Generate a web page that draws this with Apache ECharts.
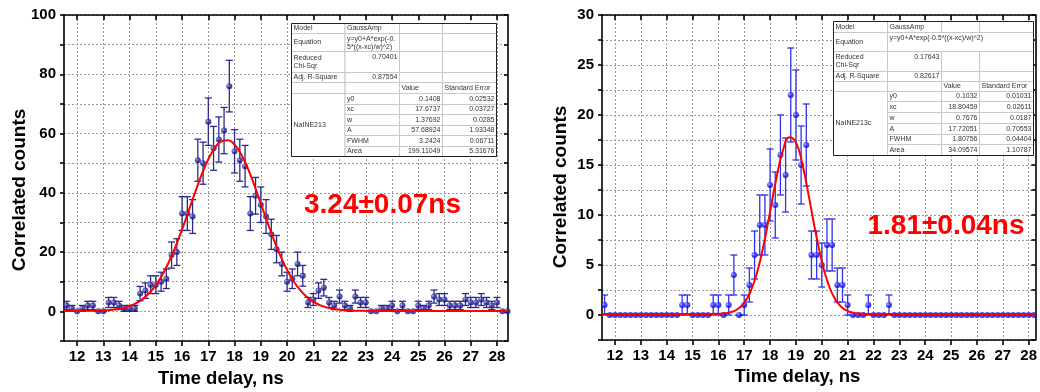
<!DOCTYPE html>
<html>
<head>
<meta charset="utf-8" />
<title>Correlated counts vs time delay</title>
<style>
    html, body { margin: 0; padding: 0; background: #fff; }
    #main { width: 1040px; height: 392px; }
</style>
</head>
<body>
<div id="main"></div>
<script src="https://cdn.jsdelivr.net/npm/echarts@6/dist/echarts.min.js"></script>
<script>
// time bins, ns (0.2 ns step)
const times = [
    11.6, 11.8, 12.0, 12.2, 12.4, 12.6, 12.8, 13.0, 13.2, 13.4,
    13.6, 13.8, 14.0, 14.2, 14.4, 14.6, 14.8, 15.0, 15.2, 15.4,
    15.6, 15.8, 16.0, 16.2, 16.4, 16.6, 16.8, 17.0, 17.2, 17.4,
    17.6, 17.8, 18.0, 18.2, 18.4, 18.6, 18.8, 19.0, 19.2, 19.4,
    19.6, 19.8, 20.0, 20.2, 20.4, 20.6, 20.8, 21.0, 21.2, 21.4,
    21.6, 21.8, 22.0, 22.2, 22.4, 22.6, 22.8, 23.0, 23.2, 23.4,
    23.6, 23.8, 24.0, 24.2, 24.4, 24.6, 24.8, 25.0, 25.2, 25.4,
    25.6, 25.8, 26.0, 26.2, 26.4, 26.6, 26.8, 27.0, 27.2, 27.4,
    27.6, 27.8, 28.0, 28.2, 28.4
];
// left panel: NaINE213
const countsA = [
    2, 1, 0, 1, 2, 2, 0, 0, 3, 3,
    2, 1, 1, 1, 6, 7, 9, 9, 10, 11,
    19, 20, 33, 33, 32, 51, 50, 64, 55, 58,
    61, 76, 54, 51, 49, 33, 39, 36, 32, 26,
    21, 16, 10, 11, 16, 12, 3, 4, 7, 8,
    3, 2, 5, 2, 1, 5, 3, 3, 0, 0,
    1, 1, 2, 0, 2, 0, 0, 2, 1, 2,
    5, 4, 4, 2, 2, 2, 4, 3, 3, 4,
    3, 2, 3, 0, 0
];
const errA = [
    1.4, 1, 0, 1, 1.4, 1.4, 0, 0, 1.7, 1.7,
    1.4, 1, 1, 1, 2.4, 2.6, 3, 3, 3.2, 3.3,
    4.4, 4.5, 5.7, 5.7, 5.7, 7.1, 7.1, 8, 7.4, 7.6,
    7.8, 8.7, 7.3, 7.1, 7, 5.7, 6.2, 6, 5.7, 5.1,
    4.6, 4, 3.2, 3.3, 4, 3.5, 1.7, 2, 2.6, 2.8,
    1.7, 1.4, 2.2, 1.4, 1, 2.2, 1.7, 1.7, 0, 0,
    1, 1, 1.4, 0, 1.4, 0, 0, 1.4, 1, 1.4,
    2.2, 2, 2, 1.4, 1.4, 1.4, 2, 1.7, 1.7, 2,
    1.7, 1.4, 1.7, 0, 0
];
// right panel: NaINE213c
const countsB = [
    1, 0, 0, 0, 0, 0, 0, 0, 0, 0,
    0, 0, 0, 0, 0, 1, 1, 0, 0, 0,
    0, 1, 1, 0, 1, 4, 0, 1, 3, 6,
    9, 9, 13, 11, 16, 14, 22, 20, 15, 17,
    6, 6, 5, 7, 7, 3, 3, 1, 0, 0,
    0, 1, 0, 0, 0, 1, 0, 0, 0, 0,
    0, 0, 0, 0, 0, 0, 0, 0, 0, 0,
    0, 0, 0, 0, 0, 0, 0, 0, 0, 0,
    0, 0, 0, 0, 0
];
const errB = [
    1, 0, 0, 0, 0, 0, 0, 0, 0, 0,
    0, 0, 0, 0, 0, 1, 1, 0, 0, 0,
    0, 1, 1, 0, 1, 2, 0, 1, 1.7, 2.4,
    3, 3, 3.6, 3.3, 4, 3.7, 4.7, 4.5, 3.9, 4.1,
    2.4, 2.4, 2.2, 2.6, 2.6, 1.7, 1.7, 1, 0, 0,
    0, 1, 0, 0, 0, 1, 0, 0, 0, 0,
    0, 0, 0, 0, 0, 0, 0, 0, 0, 0,
    0, 0, 0, 0, 0, 0, 0, 0, 0, 0,
    0, 0, 0, 0, 0
];
// GaussAmp fit curves
const fitXA = [11.5, 12.5, 13, 13.25, 13.5, 13.75, 14, 14.25, 14.5, 14.75, 15, 15.25, 15.5, 15.75, 16, 16.25, 16.5, 16.75,
    17, 17.25, 17.5, 17.75, 18, 18.25, 18.5, 18.75, 19, 19.25, 19.5, 19.75, 20, 20.25, 20.5, 20.75, 21, 21.25,
    21.5, 21.75, 22, 22.25, 22.5, 23, 24, 28.42];
const fitYA = [0.14, 0.19, 0.32, 0.47, 0.72, 1.14, 1.78, 2.76, 4.19, 6.19, 8.89, 12.39, 16.73, 21.88, 27.69, 33.93, 40.24, 46.2,
    51.32, 55.16, 57.37, 57.74, 56.23, 53.0, 48.33, 42.64, 36.43, 30.1, 24.09, 18.65, 13.99, 10.17, 7.16, 4.9, 3.26, 2.12,
    1.35, 0.86, 0.55, 0.37, 0.26, 0.17, 0.14, 0.14];
const fitXB = [11.5, 15.5, 16, 16.25, 16.5, 16.75, 17, 17.25, 17.5, 17.75, 18, 18.25, 18.5, 18.75, 19, 19.25, 19.5, 19.75,
    20, 20.25, 20.5, 20.75, 21, 21.25, 21.5, 22, 28.26];
const fitYB = [0.10, 0.10, 0.13, 0.17, 0.30, 0.60, 1.22, 2.38, 4.28, 7.0, 10.33, 13.75, 16.48, 17.78, 17.26, 15.08, 11.86, 8.4,
    5.38, 3.11, 1.65, 0.82, 0.40, 0.21, 0.14, 0.10, 0.10];
// tick labels
const xTicks = [12, 13, 14, 15, 16, 17, 18, 19, 20, 21, 22, 23, 24, 25, 26, 27, 28];

// fit report tables
const paramNames = ['y0', 'xc', 'w', 'A', 'FWHM', 'Area'];
const paramValA = ['0.1408', '17.6737', '1.37692', '57.68924', '3.2424', '199.11049'];
const paramErrA = ['0.02532', '0.03727', '0.0285', '1.93348', '0.06711', '5.31676'];
const paramValB = ['0.1032', '18.80459', '0.7676', '17.72051', '1.80756', '34.09574'];
const paramErrB = ['0.01031', '0.02611', '0.0187', '0.70553', '0.04404', '1.10787'];

const FONT = '"Liberation Sans", Arial, sans-serif';

const chart = echarts.init(document.getElementById('main'));

function errBars(color) {
    return function (params, api) {
        const x = api.value(0), y = api.value(1), e = api.value(2);
        const hi = api.coord([x, y + e]);
        const lo = api.coord([x, y - e]);
        const hw = 3.5;
        const st = { stroke: color, lineWidth: 1.3 };
        return {
            type: 'group',
            children: [
                { type: 'line', shape: { x1: hi[0], y1: hi[1], x2: lo[0], y2: lo[1] }, style: st },
                { type: 'line', shape: { x1: hi[0] - hw, y1: hi[1], x2: hi[0] + hw, y2: hi[1] }, style: st },
                { type: 'line', shape: { x1: lo[0] - hw, y1: lo[1], x2: lo[0] + hw, y2: lo[1] }, style: st }
            ]
        };
    };
}

function ball(c0, c1, c2) {
    return {
        type: 'radial', x: 0.35, y: 0.35, r: 0.75,
        colorStops: [{ offset: 0, color: c0 }, { offset: 0.45, color: c1 }, { offset: 1, color: c2 }]
    };
}

const axisLineStyle = { color: '#000', width: 1.6 };
const gridLineStyle = { color: '#9a9a9a', type: [2, 2], width: 1 };

function bottomAxis(grid, max) {
    return {
        type: 'value', gridIndex: grid, position: 'bottom', min: 11.5, max: max,
        axisLine: { show: true, onZero: false, lineStyle: axisLineStyle },
        axisTick: { show: true, inside: false, length: 5, customValues: xTicks, lineStyle: axisLineStyle },
        axisLabel: { customValues: xTicks, color: '#000', fontSize: 15, fontWeight: 'bold', fontFamily: FONT, margin: 8 },
        splitLine: { show: true, lineStyle: gridLineStyle }
    };
}
function topAxis(grid, max) {
    return {
        type: 'value', gridIndex: grid, position: 'top', min: 11.5, max: max,
        axisLine: { show: true, onZero: false, lineStyle: axisLineStyle },
        axisTick: { show: true, inside: true, length: 5, customValues: xTicks, lineStyle: axisLineStyle },
        axisLabel: { show: false },
        splitLine: { show: false }
    };
}
function leftAxis(grid, min, max, step, labelStep) {
    return {
        type: 'value', gridIndex: grid, position: 'left', min: min, max: max, interval: step,
        axisLine: { show: true, onZero: false, lineStyle: axisLineStyle },
        axisTick: { show: true, inside: false, length: 4, lineStyle: axisLineStyle },
        axisLabel: {
            color: '#000', fontSize: 15, fontWeight: 'bold', fontFamily: FONT, margin: 8,
            formatter: function (v) { return (v >= 0 && v % labelStep === 0) ? String(v) : ''; }
        },
        splitLine: { show: true, lineStyle: gridLineStyle }
    };
}
function rightAxis(grid, min, max, step) {
    return {
        type: 'value', gridIndex: grid, position: 'right', min: min, max: max, interval: step,
        axisLine: { show: true, onZero: false, lineStyle: axisLineStyle },
        axisTick: { show: true, inside: true, length: 4, lineStyle: axisLineStyle },
        axisLabel: { show: false },
        splitLine: { show: false }
    };
}

// fit report table built from graphic rects and texts
function fitTable(cols, rows, t) {
    const cells = [
        [0, 0, 1, 1, 'Model', 'left', 'middle'], [1, 0, 1, 1, 'GaussAmp', 'left', 'middle'], [2, 0, 1, 1, ''], [3, 0, 1, 1, ''],
        [0, 1, 1, 1, 'Equation', 'left', 'middle']
    ];
    if (t.wideEq) {
        cells.push([1, 1, 3, 1, t.eq, 'left', 'top']);
    } else {
        cells.push([1, 1, 1, 1, t.eq, 'left', 'top'], [2, 1, 1, 1, ''], [3, 1, 1, 1, '']);
    }
    cells.push(
        [0, 2, 1, 1, 'Reduced\nChi-Sqr', 'left', 'middle'], [1, 2, 1, 1, t.chi, 'right', 'top'], [2, 2, 1, 1, ''], [3, 2, 1, 1, ''],
        [0, 3, 1, 1, 'Adj. R-Square', 'left', 'middle'], [1, 3, 1, 1, t.r2, 'right', 'middle'], [2, 3, 1, 1, ''], [3, 3, 1, 1, ''],
        [0, 4, 1, 1, ''], [1, 4, 1, 1, ''], [2, 4, 1, 1, 'Value', 'left', 'middle'], [3, 4, 1, 1, 'Standard Error', 'left', 'middle'],
        [0, 5, 1, 6, t.name, 'left', 'middle']
    );
    for (let i = 0; i < paramNames.length; i++) {
        cells.push([1, 5 + i, 1, 1, paramNames[i], 'left', 'middle'],
            [2, 5 + i, 1, 1, t.vals[i], 'right', 'middle'],
            [3, 5 + i, 1, 1, t.errs[i], 'right', 'middle']);
    }
    const els = [];
    cells.forEach(function (c) {
        const x0 = cols[c[0]], x1 = cols[c[0] + c[2]];
        const y0 = rows[c[1]], y1 = rows[c[1] + c[3]];
        els.push({
            type: 'rect', z: 100,
            shape: { x: x0, y: y0, width: x1 - x0, height: y1 - y0 },
            style: { fill: '#fff', stroke: '#c8c8c8', lineWidth: 1 }
        });
        if (c[4]) {
            const tx = c[5] === 'right' ? x1 - 2 : x0 + 2;
            const ty = c[6] === 'top' ? y0 + 1.5 : (y0 + y1) / 2;
            els.push({
                type: 'text', z: 101, x: tx, y: ty,
                style: {
                    text: c[4], font: '7px ' + FONT, fill: '#333', lineHeight: 8,
                    align: c[5], verticalAlign: c[6]
                }
            });
        }
    });
    els.push({
        type: 'rect', z: 102,
        shape: { x: cols[0], y: rows[0], width: cols[4] - cols[0], height: rows[11] - rows[0] },
        style: { fill: 'none', stroke: '#222', lineWidth: 1 }
    });
    return els;
}

const tableA = fitTable(
    [291.5, 345, 399.5, 442.5, 496.5],
    [23.5, 33.5, 51.5, 72.5, 82.5, 93.5, 104.5, 114.5, 125.5, 135.5, 146.5, 156.5],
    { eq: 'y=y0+A*exp(-0.\n5*((x-xc)/w)^2)', wideEq: false, chi: '0.70401', r2: '0.87554', name: 'NaINE213', vals: paramValA, errs: paramErrA }
);
const tableB = fitTable(
    [833.5, 887.5, 941.5, 979.5, 1033.5],
    [21.5, 32.5, 51.5, 71.5, 81.5, 91.5, 101.5, 112.5, 123.5, 134.5, 144.5, 155.5],
    { eq: 'y=y0+A*exp(-0.5*((x-xc)/w)^2)', wideEq: true, chi: '0.17643', r2: '0.82617', name: 'NaINE213c', vals: paramValB, errs: paramErrB }
);

function label(text, x, y, size, color, rot) {
    return {
        type: 'text', x: x, y: y, rotation: rot || 0, z: 110,
        style: { text: text, font: 'bold ' + size + 'px ' + FONT, fill: color, align: 'center', verticalAlign: 'middle' }
    };
}

const option = {
    animation: false,
    backgroundColor: '#fff',
    grid: [
        { left: 64, top: 15, width: 444, height: 326 },
        { left: 602, top: 15, width: 437, height: 325 }
    ],
    xAxis: [bottomAxis(0, 28.42), topAxis(0, 28.42), bottomAxis(1, 28.26), topAxis(1, 28.26)],
    yAxis: [leftAxis(0, -10, 100, 10, 20), rightAxis(0, -10, 100, 10), leftAxis(1, -2.5, 30, 2.5, 5), rightAxis(1, -2.5, 30, 2.5)],
    series: [
        {
            type: 'custom', xAxisIndex: 0, yAxisIndex: 0, clip: true, z: 2,
            renderItem: errBars('#2a2a8c'), encode: { x: 0, y: 1 },
            data: times.map(function (t, i) { return [t, countsA[i], errA[i]]; })
        },
        {
            type: 'scatter', xAxisIndex: 0, yAxisIndex: 0, clip: true, z: 3, symbolSize: 6,
            itemStyle: { color: ball('#a0a0e8', '#24249a', '#0a0a66') },
            data: times.map(function (t, i) { return [t, countsA[i]]; })
        },
        {
            type: 'line', xAxisIndex: 0, yAxisIndex: 0, clip: true, z: 4, smooth: true, showSymbol: false,
            lineStyle: { color: '#ff0000', width: 2 },
            data: fitXA.map(function (x, i) { return [x, fitYA[i]]; })
        },
        {
            type: 'custom', xAxisIndex: 2, yAxisIndex: 2, clip: true, z: 2,
            renderItem: errBars('#3030f0'), encode: { x: 0, y: 1 },
            data: times.map(function (t, i) { return [t, countsB[i], errB[i]]; })
        },
        {
            type: 'scatter', xAxisIndex: 2, yAxisIndex: 2, clip: true, z: 3, symbolSize: 6,
            itemStyle: { color: ball('#a8a8ff', '#1e1eff', '#0000b8') },
            data: times.map(function (t, i) { return [t, countsB[i]]; })
        },
        {
            type: 'line', xAxisIndex: 2, yAxisIndex: 2, clip: true, z: 4, smooth: true, showSymbol: false,
            lineStyle: { color: '#ff0000', width: 2 },
            data: fitXB.map(function (x, i) { return [x, fitYB[i]]; })
        }
    ],
    graphic: tableA.concat(tableB, [
        label('Correlated counts', 19.5, 190, 19, '#000', Math.PI / 2),
        label('Correlated counts', 561, 187, 19, '#000', Math.PI / 2),
        label('Time delay, ns', 221, 379, 18.5, '#000'),
        label('Time delay, ns', 797.5, 377, 18.5, '#000'),
        label('3.24\u00b10.07ns', 382.5, 205, 28, '#ff0000'),
        label('1.81\u00b10.04ns', 946, 226, 28, '#ff0000')
    ])
};

chart.setOption(option);
</script>
</body>
</html>
